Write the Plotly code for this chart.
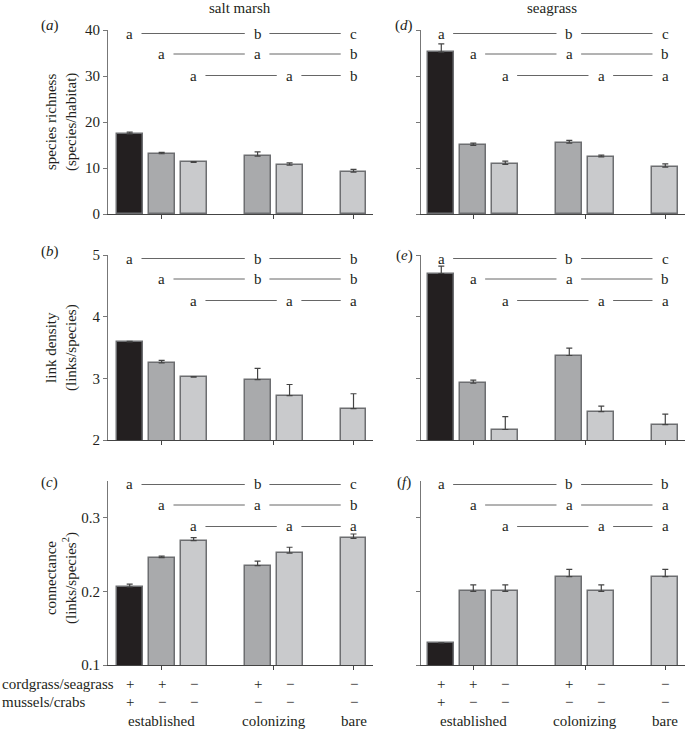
import plotly.graph_objects as go
from plotly.subplots import make_subplots

# ---------------- data ----------------
positions = [0, 1, 2, 4, 5, 7]
bar_colors = ['#231f20', '#a9aaac', '#c9cacc', '#a9aaac', '#c9cacc', '#c9cacc']

sm_richness = [17.4, 13.1, 11.2, 12.6, 10.6, 9.1]
sm_richness_err = [0.4, 0.3, 0.2, 0.9, 0.5, 0.6]
sg_richness = [35.2, 14.9, 10.8, 15.4, 12.4, 10.2]
sg_richness_err = [1.8, 0.5, 0.7, 0.6, 0.4, 0.7]

sm_linkdens = [3.59, 3.25, 3.02, 2.98, 2.72, 2.51]
sm_linkdens_err = [0.01, 0.04, 0.01, 0.18, 0.18, 0.24]
sg_linkdens = [4.70, 2.92, 2.17, 3.37, 2.46, 2.25]
sg_linkdens_err = [0.12, 0.05, 0.21, 0.12, 0.09, 0.17]

sm_conn = [0.206, 0.246, 0.269, 0.235, 0.252, 0.272]
sm_conn_err = [0.004, 0.002, 0.004, 0.006, 0.008, 0.006]
sg_conn = [0.13, 0.20, 0.20, 0.22, 0.20, 0.22]
sg_conn_err = [0.0, 0.009, 0.009, 0.01, 0.009, 0.01]

letters = {
    'a': [['a', 'b', 'c'], ['a', 'a', 'b'], ['a', 'a', 'b']],
    'd': [['a', 'b', 'c'], ['a', 'a', 'b'], ['a', 'a', 'a']],
    'b': [['a', 'b', 'b'], ['a', 'b', 'b'], ['a', 'a', 'a']],
    'e': [['a', 'b', 'c'], ['a', 'a', 'b'], ['a', 'a', 'a']],
    'c': [['a', 'b', 'c'], ['a', 'a', 'b'], ['a', 'a', 'a']],
    'f': [['a', 'b', 'b'], ['a', 'a', 'a'], ['a', 'a', 'a']],
}
letter_positions = [[0, 4, 7], [1, 4, 7], [2, 5, 7]]

row1_signs = ['+', '+', '\u2212', '+', '\u2212', '\u2212']
row2_signs = ['+', '\u2212', '\u2212', '\u2212', '\u2212', '\u2212']
group_labels = ['established', 'colonizing', 'bare']
group_pos = [1, 4.5, 7]

# ---------------- layout constants ----------------
W, H = 685, 729
FONT = 'Liberation Serif, Times New Roman, serif'
TXT = '#231f20'
FS = 15

fig = make_subplots(rows=3, cols=2)

panels = [
    (1, 1, sm_richness, sm_richness_err, 'a', [0, 40], [0, 10, 20, 30, 40]),
    (1, 2, sg_richness, sg_richness_err, 'd', [0, 40], [0, 10, 20, 30, 40]),
    (2, 1, sm_linkdens, sm_linkdens_err, 'b', [2, 5], [2, 3, 4, 5]),
    (2, 2, sg_linkdens, sg_linkdens_err, 'e', [2, 5], [2, 3, 4, 5]),
    (3, 1, sm_conn, sm_conn_err, 'c', [0.1, 0.35], [0.1, 0.2, 0.3]),
    (3, 2, sg_conn, sg_conn_err, 'f', [0.1, 0.35], [0.1, 0.2, 0.3]),
]

xdom = {1: [108 / W, 372.7 / W], 2: [421 / W, 1.0]}
xrng = {1: [-0.678, 7.6], 2: [-0.634, 7.616]}
ydom_px = {1: (30, 214), 2: (255, 440), 3: (481, 665)}

annotations = []
shapes = []

for idx, (r, c, vals, errs, lab, yr, tv) in enumerate(panels):
    fig.add_trace(go.Bar(
        x=positions, y=vals, width=0.81,
        marker=dict(color=bar_colors, line=dict(color='#6d6e71', width=1.5)),
        error_y=dict(type='data', array=errs, arrayminus=[0] * len(errs), symmetric=False,
                     color='#444444', thickness=1.2, width=3, visible=True),
        showlegend=False, hoverinfo='skip'), row=r, col=c)
    n = idx + 1
    xa = 'xaxis' if n == 1 else f'xaxis{n}'
    ya = 'yaxis' if n == 1 else f'yaxis{n}'
    xr = 'x' if n == 1 else f'x{n}'
    yrf = 'y' if n == 1 else f'y{n}'
    top, bot = ydom_px[r]
    fig.layout[xa].update(domain=xdom[c], range=xrng[c], showline=True, linecolor='#444444',
                          linewidth=1, tickmode='array', tickvals=group_pos,
                          showticklabels=False, automargin=False,
                          ticks='outside', ticklen=4, tickcolor='#444444', showgrid=False,
                          zeroline=False, fixedrange=True)
    ykw = dict(domain=[1 - bot / H, 1 - top / H], range=yr, showline=True,
               linecolor='#777777', linewidth=1, tickmode='array', tickvals=tv,
               ticks='outside', ticklen=4, tickcolor='#777777', showgrid=False,
               zeroline=False, fixedrange=True, automargin=False,
               tickfont=dict(family=FONT, size=FS, color=TXT))
    if c == 1:
        ykw['ticktext'] = [str(t) for t in tv]
    else:
        ykw['showticklabels'] = False
    fig.layout[ya].update(**ykw)
    # significance letters
    hpx = bot - top
    row_off = [3.5, 24, 45.5]
    for ri, (ps, ls) in enumerate(zip(letter_positions, letters[lab])):
        yd = 1 - row_off[ri] / hpx
        for p, l in zip(ps, ls):
            annotations.append(dict(x=p, y=yd, xref=xr, yref=f'{yrf} domain', text=l,
                                    showarrow=False, font=dict(family=FONT, size=FS, color=TXT),
                                    xanchor='center', yanchor='middle'))
        for a0, a1 in [(ps[0], ps[1]), (ps[1], ps[2])]:
            shapes.append(dict(type='line', xref=xr, yref=f'{yrf} domain',
                               x0=a0 + 0.37, x1=a1 - 0.4, y0=yd, y1=yd,
                               line=dict(color='#666666', width=1)))

# panel labels
plab = [('a', 50, 25), ('b', 50, 251), ('c', 50, 482), ('d', 404, 25), ('e', 404, 255), ('f', 404, 482)]
for l, px, py in plab:
    annotations.append(dict(x=px / W, y=1 - py / H, xref='paper', yref='paper',
                            text=f'(<i>{l}</i>)', showarrow=False,
                            font=dict(family=FONT, size=FS, color=TXT),
                            xanchor='center', yanchor='middle'))

# column titles
annotations.append(dict(x=240 / W, y=1 - 8 / H, xref='paper', yref='paper', text='salt marsh',
                        showarrow=False, font=dict(family=FONT, size=FS, color=TXT),
                        xanchor='center', yanchor='middle'))
annotations.append(dict(x=552 / W, y=1 - 8 / H, xref='paper', yref='paper', text='seagrass',
                        showarrow=False, font=dict(family=FONT, size=FS, color=TXT),
                        xanchor='center', yanchor='middle'))

# y axis titles
ytitles = [('species richness<br>(species/habitat)', 122),
           ('link density<br>(links/species)', 348),
           ('connectance<br>(links/species<sup>2</sup>)', 578)]
for t, py in ytitles:
    annotations.append(dict(x=61 / W, y=1 - py / H, xref='paper', yref='paper', text=t,
                            textangle=-90, showarrow=False,
                            font=dict(family=FONT, size=FS, color=TXT),
                            xanchor='center', yanchor='middle'))

# bottom treatment labels
for xr_name in ['x5', 'x6']:
    for p, s1, s2 in zip(positions, row1_signs, row2_signs):
        annotations.append(dict(x=p, y=1 - 683.5 / H, xref=xr_name, yref='paper', text=s1,
                                showarrow=False, font=dict(family=FONT, size=FS, color=TXT),
                                xanchor='center', yanchor='middle'))
        annotations.append(dict(x=p, y=1 - 701.5 / H, xref=xr_name, yref='paper', text=s2,
                                showarrow=False, font=dict(family=FONT, size=FS, color=TXT),
                                xanchor='center', yanchor='middle'))
    for g, gp in zip(group_labels, group_pos):
        annotations.append(dict(x=gp, y=1 - 720.5 / H, xref=xr_name, yref='paper', text=g,
                                showarrow=False, font=dict(family=FONT, size=FS, color=TXT),
                                xanchor='center', yanchor='middle'))

annotations.append(dict(x=0, y=1 - 683.5 / H, xref='paper', yref='paper', text='cordgrass/seagrass',
                        showarrow=False, font=dict(family=FONT, size=FS, color=TXT),
                        xanchor='left', yanchor='middle'))
annotations.append(dict(x=0, y=1 - 701.5 / H, xref='paper', yref='paper', text='mussels/crabs',
                        showarrow=False, font=dict(family=FONT, size=FS, color=TXT),
                        xanchor='left', yanchor='middle'))

fig.update_layout(width=W, height=H, margin=dict(l=0, r=0, t=0, b=0, pad=0, autoexpand=False),
                  plot_bgcolor='white', paper_bgcolor='white',
                  font=dict(family=FONT, size=FS, color=TXT),
                  annotations=annotations, shapes=shapes, bargap=0)

fig.write_html('out.html', config={'displayModeBar': False},
               post_script="document.body.style.margin='0';document.body.style.overflow='hidden';")
